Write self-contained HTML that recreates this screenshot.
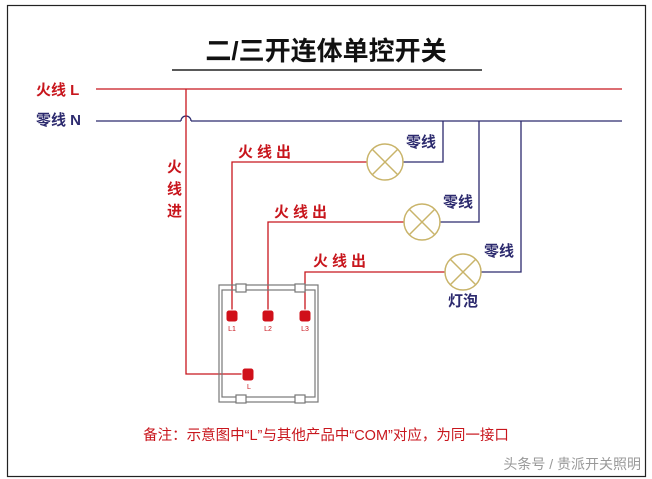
<!DOCTYPE html>
<html><head><meta charset="utf-8"><style>
body{margin:0;background:#fff;}
svg{display:block;font-family:"Liberation Sans","Noto Sans CJK SC",sans-serif;}
</style></head><body>
<svg width="652" height="479" viewBox="0 0 652 479">
<rect width="652" height="479" fill="#fff"/>
<rect x="7.5" y="5.5" width="638" height="471" fill="none" stroke="#222" stroke-width="1.2"/>
<text x="326" y="60" text-anchor="middle" font-size="26" font-weight="bold" fill="#111">二/三开连体单控开关</text>
<line x1="172" y1="70" x2="482" y2="70" stroke="#222" stroke-width="1.5"/>
<text x="36" y="95" font-size="15" font-weight="bold" fill="#c8161d">火线 L</text>
<text x="36" y="125" font-size="15" font-weight="bold" fill="#2c2a6e">零线 N</text>
<line x1="96" y1="89" x2="622" y2="89" stroke="#c8161d" stroke-width="1.3"/>
<line x1="96" y1="121" x2="181" y2="121" stroke="#2c2a6e" stroke-width="1.3"/>
<path d="M181 121 A5 5 0 0 1 191 121" fill="none" stroke="#2c2a6e" stroke-width="1.3"/>
<line x1="191" y1="121" x2="622" y2="121" stroke="#2c2a6e" stroke-width="1.3"/>
<g fill="none" stroke="#c8161d" stroke-width="1.3">
<path d="M186 89 V374 H242"/>
<path d="M232 310 V162 H367"/>
<path d="M268 310 V222 H404"/>
<path d="M305 310 V272 H445"/>
</g>
<g fill="none" stroke="#2c2a6e" stroke-width="1.3">
<path d="M403 162 H443 V121"/>
<path d="M440 222 H479 V121"/>
<path d="M481 272 H521 V121"/>
</g>
<g fill="#fff" stroke="#c9b46a" stroke-width="1.5">
<circle cx="385" cy="162" r="18"/><path d="M372 149 L398 175 M398 149 L372 175"/>
<circle cx="422" cy="222" r="18"/><path d="M409 209 L435 235 M435 209 L409 235"/>
<circle cx="463" cy="272" r="18"/><path d="M450 259 L476 285 M476 259 L450 285"/>
</g>
<g font-size="15" font-weight="bold" fill="#2c2a6e">
<text x="406" y="147">零线</text>
<text x="443" y="207">零线</text>
<text x="484" y="256">零线</text>
<text x="448" y="306">灯泡</text>
</g>
<g font-size="15" font-weight="bold" fill="#c8161d">
<text x="238" y="157" letter-spacing="4">火线出</text>
<text x="274" y="217" letter-spacing="4">火线出</text>
<text x="313" y="266" letter-spacing="4">火线出</text>
<text x="167" y="172">火</text><text x="167" y="194">线</text><text x="167" y="216">进</text>
</g>
<g fill="none" stroke="#777" stroke-width="1.2">
<rect x="219" y="285" width="99" height="117"/>
<rect x="222" y="290" width="93" height="107"/>
<rect x="236" y="284" width="10" height="8" fill="#fff"/>
<rect x="295" y="284" width="10" height="8" fill="#fff"/>
<rect x="236" y="395" width="10" height="8" fill="#fff"/>
<rect x="295" y="395" width="10" height="8" fill="#fff"/>
</g>
<g fill="#d0101a" stroke="#fff" stroke-width="1">
<rect x="226" y="310" width="12" height="12" rx="3"/>
<rect x="262" y="310" width="12" height="12" rx="3"/>
<rect x="299" y="310" width="12" height="12" rx="3"/>
<rect x="242" y="368" width="12" height="13" rx="3"/>
</g>
<g font-size="7" fill="#c8161d" text-anchor="middle">
<text x="232" y="331">L1</text><text x="268" y="331">L2</text><text x="305" y="331">L3</text><text x="249" y="389">L</text>
</g>
<text x="326" y="440" text-anchor="middle" font-size="14.5" fill="#c8161d">备注：示意图中“L”与其他产品中“COM”对应，为同一接口</text>
<text x="641" y="469" text-anchor="end" font-size="14" fill="#999">头条号 / 贵派开关照明</text>
</svg>
</body></html>
